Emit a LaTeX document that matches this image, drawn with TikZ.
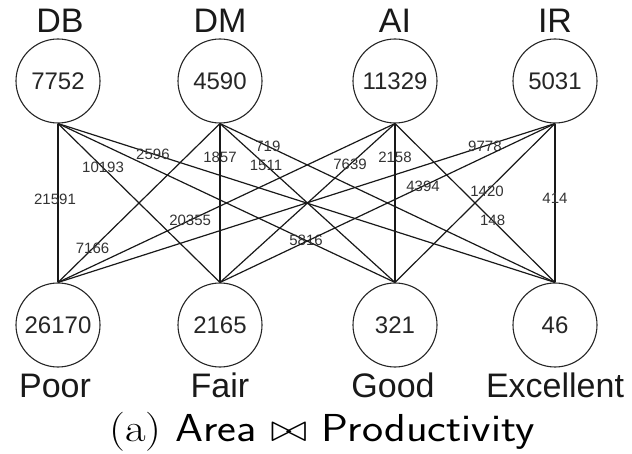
\RequirePackage{fix-cm}
\documentclass[tikz,border=0pt]{standalone}
\usepackage{fontspec}
\setmainfont{Latin Modern Roman}
\newfontfamily\arial{Liberation Sans}
\usetikzlibrary{positioning}
\begin{document}
\begin{tikzpicture}[x=1pt,y=-1pt,
  vertex/.style={circle,draw=black!85,line width=1.1pt,minimum size=84pt,inner sep=0pt,
    font=\arial\fontsize{24}{24}\selectfont,text=black!85},
  caption/.style={font=\arial\fontsize{34}{34}\selectfont,text=black!90,anchor=base},
  link/.style={draw=black!90,line width=1.2pt},
  wt/.style={font=\arial\fontsize{15}{15}\selectfont,text=black!80,inner sep=0pt}]
\useasboundingbox (0,0) rectangle (632,454);

% top row: areas
\node[vertex] (db) at (58,81)  {7752};
\node[vertex] (dm) at (220,81) {4590};
\node[vertex] (ai) at (395,81) {11329};
\node[vertex] (ir) at (555,81) {5031};
% bottom row: productivity classes
\node[vertex] (poor) at (58,325)  {26170};
\node[vertex] (fair) at (220,325) {2165};
\node[vertex] (good) at (395,325) {321};
\node[vertex] (exc)  at (555,325) {46};

% names above and below the circles
\node[caption] (ldb) at (60,33)  {DB};
\node[caption] (ldm) at (220,33) {DM};
\node[caption] (lai) at (395,33) {AI};
\node[caption] (lir) at (555,33) {IR};
\node[caption] (lpoor) at (55,397)  {Poor};
\node[caption] (lfair) at (220,397) {Fair};
\node[caption] (lgood) at (393,397) {Good};
\node[caption] (lexc)  at (555,397) {Excellent};

% join edges with their counts
\path[link] (db.south) -- node[wt,pos=0.48,xshift=-3pt] {21591} (poor.north);
\path[link] (db.south) -- node[wt,pos=0.278] {10193} (fair.north);
\path[link] (db.south) -- node[wt,pos=0.736] {5816} (good.north);
\path[link] (db.south) -- node[wt,pos=0.191] {2596} (exc.north);

\path[link] (dm.south) -- node[wt,pos=0.787] {7166} (poor.north);
\path[link] (dm.south) -- node[wt,pos=0.21] {1857} (fair.north);
\path[link] (dm.south) -- node[wt,pos=0.263] {1511} (good.north);
\path[link] (dm.south) -- node[wt,pos=0.143] {719} (exc.north);

\path[link] (ai.south) -- node[wt,pos=0.608] {20355} (poor.north);
\path[link] (ai.south) -- node[wt,pos=0.257] {7639} (fair.north);
\path[link] (ai.south) -- node[wt,pos=0.21] {2158} (good.north);
\path[link] (ai.south) -- node[wt,pos=0.61] {148} (exc.north);

\path[link] (ir.south) -- node[wt,pos=0.141] {9778} (poor.north);
\path[link] (ir.south) -- node[wt,pos=0.394] {4394} (fair.north);
\path[link] (ir.south) -- node[wt,pos=0.425] {1420} (good.north);
\path[link] (ir.south) -- node[wt,pos=0.47] {414} (exc.north);

% sub-caption
\node[anchor=base,font=\fontsize{39}{39}\selectfont] (cap) at (322,441)
  {\scalebox{1.15}[1]{(a) \textsf{Area $\bowtie$ Productivity}}};
\end{tikzpicture}
\end{document}
